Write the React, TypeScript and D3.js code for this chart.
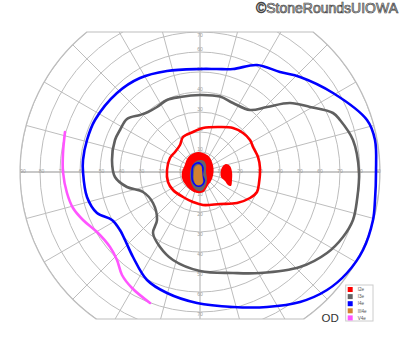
import React from "react";
import * as d3 from "d3";

type P = [number, number];

// Isopter coordinates in visual-field degrees [horizontal, vertical]
const i2eIsopter: P[] = [
  [30, 2], [29, 7.5], [26.5, 12.5], [25, 16], [21.5, 19.5], [16.5, 22], [10, 22.5], [1.5, 22],
  [-3.5, 20], [-8.5, 17.5], [-10, 13.5], [-12.5, 10], [-15, 7], [-16.5, 1], [-16, -5], [-13.5, -9],
  [-8.5, -12.5], [-3.5, -15], [1.5, -16.5], [10, -16], [18.5, -15.5], [25, -13], [28.5, -10], [29.5, -5.5],
];
const i3eIsopter: P[] = [
  [79.5, 0], [76.5, 16], [70, 26], [66.5, 29.5], [55, 32.5], [45, 34.5], [33.5, 32.5], [25, 31],
  [16.5, 34.5], [10, 37.7], [0, 38.5], [-10, 37.5], [-16.5, 36], [-21.5, 32.5], [-26, 30], [-30, 28.5],
  [-36.5, 26.5], [-40, 21], [-42.5, 16], [-44, 6], [-42.5, -2.5], [-36.5, -7.5], [-28.5, -10],
  [-23.5, -15.5], [-21.5, -24], [-23.5, -30.5], [-20, -37.5], [-13.5, -44], [0, -49.5], [16.5, -50.5],
  [30, -50.5], [50, -47.5], [63.5, -40.5], [71.5, -32.5], [76.5, -24], [78.5, -14],
];
const i4eIsopter: P[] = [
  [88, 0], [87.5, 16], [83.5, 26], [66.5, 39.5], [50, 47.5], [40, 50], [28.5, 53.5], [16.5, 51.5],
  [8.3, 51.5], [0, 51.5], [-16.5, 50.5], [-30, 47], [-41.5, 39.5], [-52.5, 26], [-56.5, 16], [-58.5, 6],
  [-58.5, 0], [-56.5, -12.5], [-51.5, -20.5], [-44, -24], [-40, -29], [-37.5, -34], [-33.5, -42.5],
  [-26.5, -54], [-16.5, -60.5], [-1.5, -65.5], [16.5, -67.5], [33.5, -67.5], [50, -65], [63.5, -59],
  [73.5, -50.5], [81.5, -39], [86.5, -24], [87.5, -14],
];
const v4eIsopter: P[] = [
  [-67.5, 20], [-68.5, 9.5], [-68.5, 0], [-66.5, -10.5], [-63.5, -18], [-58.5, -24], [-51.5, -30],
  [-45, -37.5], [-41.5, -44], [-39, -51.5], [-34, -58], [-25, -65.5],
];
// Filled areas
const i2eCentral: P[] = [
  [6.8, 1], [6, 5], [4.5, 7.8], [1.5, 9.5], [-1, 10], [-4, 9], [-6.2, 7], [-7.8, 3], [-9, 0],
  [-9, -3], [-7.3, -6.3], [-4.7, -9], [-1.5, -10.5], [1.8, -10], [3.8, -7], [6, -3.5],
];
const i2eBlindSpot: P[] = [
  [13, 4], [15, 3], [16, 0], [16, -4], [15.5, -7], [14, -6.5], [12.5, -4.5], [10.5, -2.5], [10.5, 1], [11.5, 3],
];
const i3eCentral: P[] = [
  [0, 6], [2, 5.5], [3, 3.5], [3, 0], [3.5, -4], [2.5, -7.5], [0.5, -9.5], [-2, -9], [-4, -6.5],
  [-5, -2.5], [-4.5, 2], [-2.5, 5],
];
const i4eCentral: P[] = [
  [-1.5, 4.5], [0.5, 4], [1.5, 2], [1.2, -1.5], [2.2, -4.5], [0.7, -6.8], [-2, -6.8], [-3.7, -4.5],
  [-4, -0.5], [-3.5, 3],
];
const iii4eCentral: P[] = [
  [-1, 3.5], [0.5, 3], [1, 1], [1.3, -2.5], [1.3, -5.5], [0, -6.5], [-2, -6.2], [-3, -4], [-3, 0], [-2.5, 2.5],
];

const legendNames = ["I2e", "I3e", "I4e", "III4e", "V4e"];
const legendColors = ["#ff0000", "#666666", "#0000ff", "#d2822f", "#ff55ff"];

const ringValues = [10, 20, 30, 40, 50, 60, 70, 80, 90];
const meridians = d3.range(0, 360, 15);
const horizLabels = [10, 20, 30, 40, 50, 60, 70, 80, 90];
const vertTopLabels = [10, 20, 30, 40, 50, 60, 70];
const vertBottomLabels = [10, 20, 30, 40, 50, 60, 70];
const superiorLimit = 70;
const inferiorLimit = 73.5;

const W = 400;
const H = 352;

export default function App() {
  const x = d3.scaleLinear().domain([-90, 90]).range([20, 380]);
  const y = d3.scaleLinear().domain([-90, 90]).range([352, -8]);
  const r = d3.scaleLinear().domain([0, 90]).range([0, 180]);
  const cx = x(0);
  const cy = y(0);
  const R = r(90);
  const yTop = y(superiorLimit);
  const yBot = y(-inferiorLimit);
  const dxT = Math.sqrt(R * R - (cy - yTop) ** 2);
  const dxB = Math.sqrt(R * R - (yBot - cy) ** 2);
  const boundary = `M${cx - dxT},${yTop} L${cx + dxT},${yTop} A${R},${R} 0 0 1 ${cx + dxB},${yBot} L${cx - dxB},${yBot} A${R},${R} 0 0 1 ${cx - dxT},${yTop} Z`;

  const closed = d3.line<P>().x((d) => x(d[0])).y((d) => y(d[1])).curve(d3.curveCatmullRomClosed.alpha(0.5));
  const open = d3.line<P>().x((d) => x(d[0])).y((d) => y(d[1])).curve(d3.curveCatmullRom.alpha(0.5));

  const grid = "#bdbdbd";
  const labelColor = "#a0a0a0";
  const font = "'Liberation Sans', Arial, sans-serif";

  return (
    <svg width={W} height={H} style={{ position: "absolute", left: 0, top: 0, background: "#fff" }}>
      <defs>
        <clipPath id="field">
          <path d={boundary} />
        </clipPath>
      </defs>
      <g clipPath="url(#field)">
        {ringValues.map((v) => (
          <circle key={v} cx={cx} cy={cy} r={r(v)} fill="none" stroke={grid} strokeWidth={1} />
        ))}
        {meridians.map((a) => (
          <line
            key={a}
            x1={cx}
            y1={cy}
            x2={cx + R * Math.cos((a * Math.PI) / 180)}
            y2={cy - R * Math.sin((a * Math.PI) / 180)}
            stroke={grid}
            strokeWidth={1}
          />
        ))}
        <line x1={x(-90)} x2={x(90)} y1={cy} y2={cy} stroke="#c8c8c8" strokeWidth={2.2} />
        <line x1={cx} x2={cx} y1={yTop} y2={yBot} stroke="#cccccc" strokeWidth={1} />
      </g>
      <path d={boundary} fill="none" stroke={grid} strokeWidth={1.2} />

      <g fontFamily={font} fontSize={5} fill={labelColor} textAnchor="middle">
        {horizLabels.map((v) => (
          <React.Fragment key={v}>
            <text x={x(-v) + (v === 90 ? 3 : 1.5)} y={cy} dy="0.1em">{v}</text>
            <text x={x(v) - (v === 90 ? 2 : 0)} y={cy} dy="0.1em">{v}</text>
          </React.Fragment>
        ))}
        {vertTopLabels.map((v) => (
          <text key={"t" + v} x={cx} y={v === 70 ? y(v) + 3 : y(v) - 3} dy="0.35em">{v}</text>
        ))}
        {vertBottomLabels.map((v) => (
          <text key={"b" + v} x={cx} y={y(-v) + 2} dy="0.35em">{v}</text>
        ))}
      </g>

      {/* filled areas */}
      <path d={closed(i2eCentral) || ""} fill="#ff0000" stroke="none" />
      <path d={closed(i2eBlindSpot) || ""} fill="#ff0000" stroke="none" />
      <path d={closed(i3eCentral) || ""} fill="#666666" stroke="none" />
      <path d={closed(i4eCentral) || ""} fill="none" stroke="#0000ff" strokeWidth={1.6} />
      <path d={closed(iii4eCentral) || ""} fill="#d2822f" stroke="none" />

      {/* isopters */}
      <path d={closed(i2eIsopter) || ""} fill="none" stroke="#ff0000" strokeWidth={2.6} />
      <path d={closed(i3eIsopter) || ""} fill="none" stroke="#606060" strokeWidth={2.6} />
      <path d={closed(i4eIsopter) || ""} fill="none" stroke="#0000ff" strokeWidth={2.6} />
      <path d={open(v4eIsopter) || ""} fill="none" stroke="#ff55ff" strokeWidth={2.6} strokeLinecap="round" />

      {/* legend */}
      <g>
        <rect x={345.7} y={285} width={27.3} height={36} fill="#fff" stroke="#cccccc" strokeWidth={1} />
        {legendNames.map((n, i) => (
          <g key={n} transform={`translate(347.7, ${287 + i * 7.1})`}>
            <rect width={5} height={5} fill={legendColors[i]} />
            <text x={10} y={4.3} fontFamily={font} fontSize={4.6} fill="#555">{n}</text>
          </g>
        ))}
      </g>

      <text x={321.5} y={321.5} fontFamily={font} fontSize={11.5} fill="#333">OD</text>
      <text
        x={398}
        y={13}
        textAnchor="end"
        fontFamily={font}
        fontSize={14}
        fill="#e8e8e8"
        stroke="#444"
        strokeWidth={0.7}
      >
        ©StoneRoundsUIOWA
      </text>
    </svg>
  );
}
